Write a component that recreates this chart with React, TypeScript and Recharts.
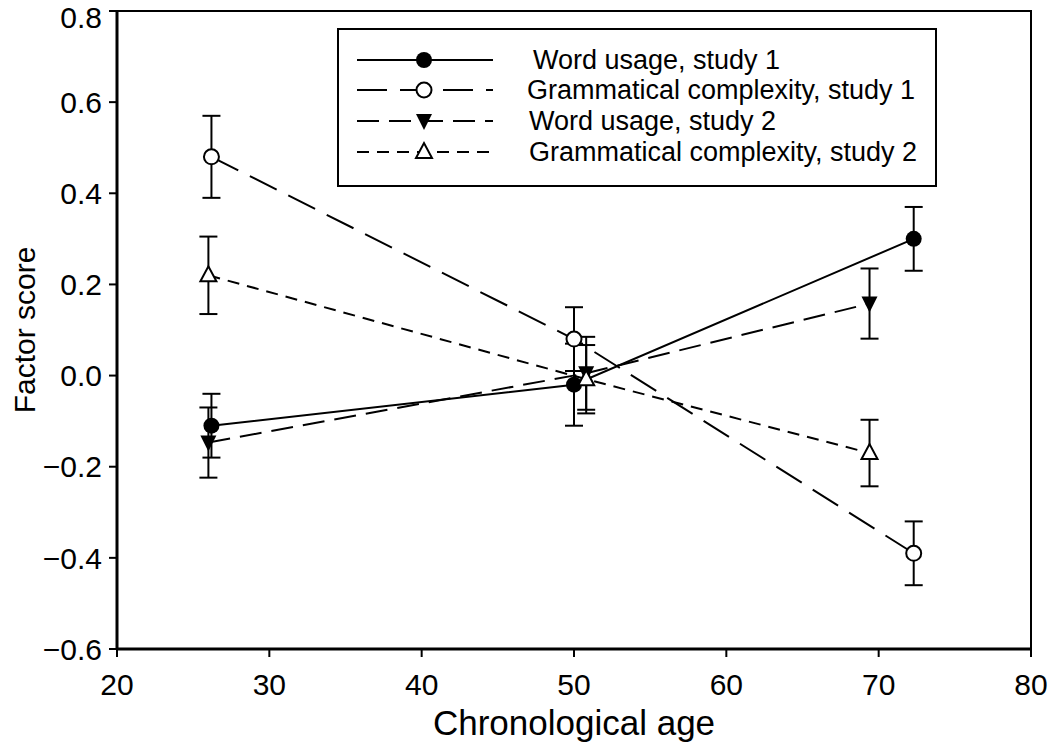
import React from "react";
import {
  ComposedChart,
  Line,
  XAxis,
  YAxis,
  ErrorBar,
  ReferenceArea,
  Label,
} from "recharts";

// values: age, factor score, error
const wordUsage1 = [
  { x: 26.2, y: -0.11, err: 0.07 },
  { x: 50.0, y: -0.02, err: 0.09 },
  { x: 72.3, y: 0.3, err: 0.07 },
];
const grammar1 = [
  { x: 26.2, y: 0.48, err: 0.09 },
  { x: 50.0, y: 0.08, err: 0.07 },
  { x: 72.3, y: -0.39, err: 0.07 },
];
const wordUsage2 = [
  { x: 26.0, y: -0.147, err: 0.077 },
  { x: 50.8, y: 0.005, err: 0.08 },
  { x: 69.4, y: 0.158, err: 0.077 },
];
const grammar2 = [
  { x: 26.0, y: 0.22, err: 0.085 },
  { x: 50.8, y: -0.008, err: 0.075 },
  { x: 69.4, y: -0.17, err: 0.073 },
];

const xTicks = [20, 30, 40, 50, 60, 70, 80];
const yTicks = [-0.6, -0.4, -0.2, 0, 0.2, 0.4, 0.6, 0.8];

const legendLabels = [
  "Word usage, study 1",
  "Grammatical complexity, study 1",
  "Word usage, study 2",
  "Grammatical complexity, study 2",
];
const dashes = ["", "30 13", "22 10", "12 8"];

const FONT = "'Liberation Sans', Arial, Helvetica, sans-serif";

function Marker({ kind, cx, cy }: { kind: number; cx: number; cy: number }) {
  if (kind === 0) return <circle cx={cx} cy={cy} r={8} fill="#000" />;
  if (kind === 1)
    return <circle cx={cx} cy={cy} r={7.5} fill="#fff" stroke="#000" strokeWidth={2} />;
  if (kind === 2)
    return (
      <path
        d={`M${cx - 8},${cy - 7} L${cx + 8},${cy - 7} L${cx},${cy + 9} Z`}
        fill="#000"
      />
    );
  return (
    <path
      d={`M${cx - 8},${cy + 6} L${cx + 8},${cy + 6} L${cx},${cy - 9} Z`}
      fill="#fff"
      stroke="#000"
      strokeWidth={2}
    />
  );
}

const dotFor = (kind: number) => (p: any) =>
  <Marker key={`m${kind}-${p.index}`} kind={kind} cx={p.cx} cy={p.cy} />;

function LegendBox() {
  const rows = [32, 62, 93, 124];
  const textX = [196, 190, 192, 192];
  return (
    <svg width={600} height={159} style={{ display: "block" }}>
      <rect x={1} y={1} width={598} height={157} fill="#fff" stroke="#000" strokeWidth={2} />
      {rows.map((ry, i) => (
        <g key={i}>
          <line
            x1={20}
            x2={156}
            y1={ry}
            y2={ry}
            stroke="#000"
            strokeWidth={2}
            strokeDasharray={dashes[i] || undefined}
          />
          <Marker kind={i} cx={87} cy={ry} />
          <text
            x={textX[i]}
            y={ry}
            dominantBaseline="central"
            fontFamily={FONT}
            fontSize={27}
            fill="#000"
          >
            {legendLabels[i]}
          </text>
        </g>
      ))}
    </svg>
  );
}

export default function App() {
  const series = [wordUsage1, grammar1, wordUsage2, grammar2];
  return (
    <div style={{ fontFamily: FONT, position: "relative", width: 1050, height: 752 }}>
      <style>{"body{margin:0;overflow:hidden}"}</style>
      <ComposedChart
        width={1050}
        height={752}
        margin={{ top: 11, right: 19, left: 0, bottom: 0 }}
      >
        <XAxis
          dataKey="x"
          type="number"
          domain={[20, 80]}
          ticks={xTicks}
          height={103}
          stroke="#000"
          strokeWidth={3}
          tickSize={8}
          tickMargin={17}
          tick={{ fill: "#000", fontSize: 30, fontFamily: FONT }}
          tickLine={{ stroke: "#000", strokeWidth: 2 }}
        >
          <Label
            value="Chronological age"
            position="insideBottom"
            offset={17}
            style={{ fill: "#000", fontSize: 35, fontFamily: FONT }}
          />
        </XAxis>
        <YAxis
          type="number"
          domain={[-0.6, 0.8]}
          ticks={yTicks}
          width={117}
          stroke="#000"
          strokeWidth={3}
          tickSize={8}
          tickMargin={7}
          tick={{ fill: "#000", fontSize: 30, fontFamily: FONT }}
          tickLine={{ stroke: "#000", strokeWidth: 2 }}
          tickFormatter={(v: number) =>
            v < 0 ? `\u2212${Math.abs(v).toFixed(1)}` : v.toFixed(1)
          }
        >
          <Label
            content={() => (
              <text
                x={24}
                y={330}
                transform="rotate(-90 24 330)"
                textAnchor="middle"
                dominantBaseline="central"
                fontFamily={FONT}
                fontSize={30}
                fill="#000"
              >
                Factor score
              </text>
            )}
          />
        </YAxis>
        <ReferenceArea
          x1={20}
          x2={80}
          y1={-0.6}
          y2={0.8}
          fill="none"
          stroke="#000"
          strokeWidth={2}
        />
        {series.map((d, i) => (
          <Line
            key={i}
            data={d}
            dataKey="y"
            type="linear"
            stroke="#000"
            strokeWidth={2}
            strokeDasharray={dashes[i] || undefined}
            dot={dotFor(i)}
            activeDot={false}
            isAnimationActive={false}
          >
            <ErrorBar
              dataKey="err"
              direction="y"
              width={9}
              stroke="#000"
              strokeWidth={2}
              isAnimationActive={false}
            />
          </Line>
        ))}
      </ComposedChart>
      <div style={{ position: "absolute", left: 337, top: 28 }}>
        <LegendBox />
      </div>
    </div>
  );
}
